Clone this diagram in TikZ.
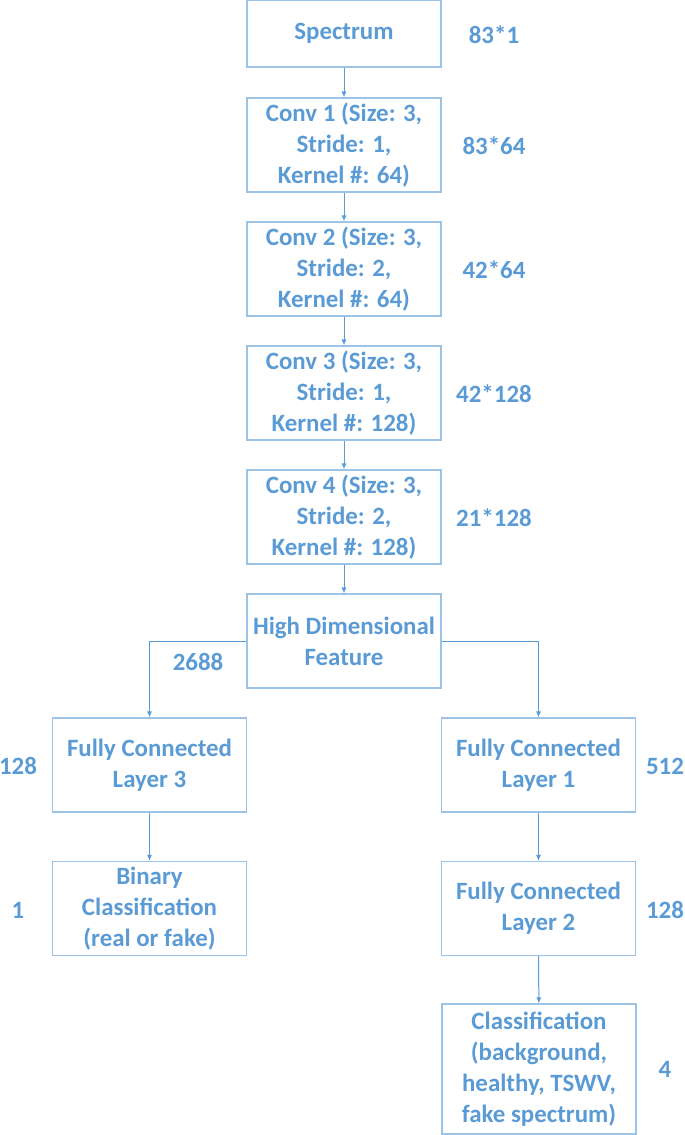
\documentclass[tikz,border=0pt]{standalone}
\usepackage{fontspec}
\setmainfont{Carlito}
\usetikzlibrary{arrows.meta,positioning}
\definecolor{LayerBlue}{HTML}{5B9BD5}
\definecolor{EdgeBlue}{HTML}{9DC3E6}

\begin{document}
\begin{tikzpicture}[x=1bp,y=-1bp,>={Latex[length=6bp,width=5bp]},
  every node/.style={font=\fontsize{25}{31}\selectfont\bfseries,text=LayerBlue,align=center},
  layer/.style={draw=EdgeBlue,line width=1.1bp,minimum width=194bp,minimum height=94bp,inner sep=0pt},
  dims/.style={inner sep=0pt}]
  \useasboundingbox (0,0) rectangle (685,1135);
  % main column
  \node[layer,minimum height=67bp] (spec) at (344,33.5) {Spectrum};
  \node[layer] (conv1) at (344,145) {Conv 1 (Size: 3,\\Stride: 1,\\Kernel \#: 64)};
  \node[layer] (conv2) at (344,269) {Conv 2 (Size: 3,\\Stride: 2,\\Kernel \#: 64)};
  \node[layer] (conv3) at (344,393) {Conv 3 (Size: 3,\\Stride: 1,\\Kernel \#: 128)};
  \node[layer] (conv4) at (344,517) {Conv 4 (Size: 3,\\Stride: 2,\\Kernel \#: 128)};
  \node[layer] (hdf) at (344,641) {High Dimensional\\Feature};
  % two branches
  \node[layer] (fc3) at (149.5,765) {Fully Connected\\Layer 3};
  \node[layer] (bin) at (149.5,908.5) {Binary\\Classification\\(real or fake)};
  \node[layer] (fc1) at (538.5,765) {Fully Connected\\Layer 1};
  \node[layer] (fc2) at (538.5,908.5) {Fully Connected\\Layer 2};
  \node[layer,minimum height=130bp] (cls) at (539,1069) {Classification\\(background,\\healthy, TSWV,\\fake spectrum)};
  % sizes
  \node[dims] (d0) at (494,35) {83*1};
  \node[dims] (d1) at (494,146) {83*64};
  \node[dims] (d2) at (494,270) {42*64};
  \node[dims] (d3) at (494,394) {42*128};
  \node[dims] (d4) at (494,518) {21*128};
  \node[dims] (d5) at (198,662) {2688};
  \node[dims] (d6) at (18,766) {128};
  \node[dims] (d7) at (18,910) {1};
  \node[dims] (d8) at (665,766) {512};
  \node[dims] (d9) at (665,910) {128};
  \node[dims] (d10) at (665,1069) {4};
  % connectors
  \foreach \a/\b in {spec/conv1,conv1/conv2,conv2/conv3,conv3/conv4,conv4/hdf,fc3/bin,fc1/fc2,fc2/cls}
    \draw[->,LayerBlue,line width=1bp] (\a) -- (\b);
  \draw[->,LayerBlue,line width=1bp] (hdf.west) -| (fc3.north);
  \draw[->,LayerBlue,line width=1bp] (hdf.east) -| (fc1.north);
\end{tikzpicture}
\end{document}
